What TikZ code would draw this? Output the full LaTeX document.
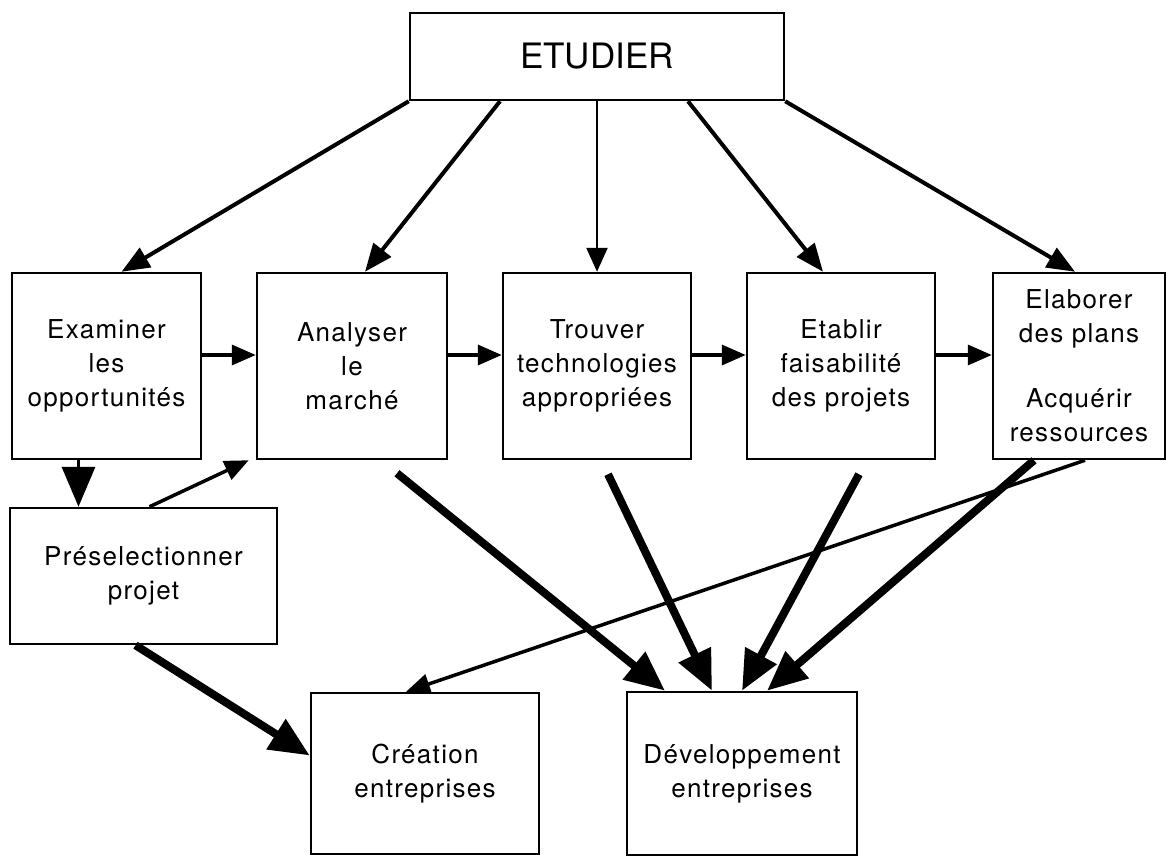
\documentclass[tikz,border=0pt]{standalone}
\usepackage{fontspec}
\setmainfont{TeX Gyre Heros}[LetterSpace=5]
\newfontfamily\headfont{TeX Gyre Heros}
\usetikzlibrary{arrows.meta}

\begin{document}
\begin{tikzpicture}[x=1pt, y=-1pt,
		box/.style={draw, line width=2.5pt, inner sep=0pt, align=center, font=\fontsize{26}{34}\selectfont},
		flow/.style={line width=3.5pt, -{Triangle[length=24pt, width=20pt]}},
		feed/.style={line width=4pt, -{Triangle[length=28pt, width=22pt]}},
		heavy/.style={line width=8pt, -{Triangle[length=40pt, width=34pt]}}]
		\useasboundingbox (0,0) rectangle (1172,856);

		\node[box, minimum width=374pt, minimum height=87pt, font=\headfont\fontsize{35}{40}\selectfont] (etud) at (597,56.5) {ETUDIER};

		\node[box, minimum width=189pt, minimum height=186pt] (exam) at (106.5,366) {Examiner\\les\\opportunités};
		\node[box, minimum width=190pt, minimum height=186pt] (ana) at (352,366) {Analyser\\le\\marché};
		\node[box, minimum width=188pt, minimum height=186pt] (trouv) at (597,366) {Trouver\\technologies\\appropriées};
		\node[box, minimum width=188pt, minimum height=186pt] (etab) at (841,366) {Etablir\\faisabilité\\des projets};
		\node[box, minimum width=172pt, minimum height=186pt] (elab) at (1079,366) {Elaborer\\des plans\\[31pt]Acquérir\\ressources};

		\node[box, minimum width=267pt, minimum height=136pt] (pres) at (143.5,576) {Préselectionner\\projet};
		\node[box, minimum width=228pt, minimum height=161pt] (crea) at (425,773.5) {Création\\entreprises};
		\node[box, minimum width=230pt, minimum height=163pt] (dev) at (742,773.5) {Développement\\entreprises};

		% from ETUDIER
		\draw[feed] (etud.south west) -- ([xshift=15pt]exam.north);
		\draw[feed] ([xshift=-97pt]etud.south) -- ([xshift=13pt]ana.north);
		\draw[line width=2.5pt, -{Triangle[length=24pt, width=21pt]}] (etud.south) -- (trouv.north);
		\draw[feed] ([xshift=91pt]etud.south) -- ([xshift=-18pt]etab.north);
		\draw[feed] (etud.south east) -- ([xshift=-4pt]elab.north);

		\foreach \a/\b in {exam/ana, ana/trouv, trouv/etab, etab/elab}
			\draw[flow] ([yshift=11pt]\a.east) -- ([yshift=11pt]\b.west);

		\draw[line width=3.5pt, -{Triangle[length=40pt, width=33pt]}] ([xshift=-28pt]exam.south) -- ([xshift=-28pt]exam.south |- pres.north);
		\draw[flow] ([xshift=6pt]pres.north) -- ([xshift=-7pt]ana.south west);
		\draw[heavy] ([xshift=-8pt]pres.south) -- ([yshift=18pt]crea.west);

		% towards the bottom boxes
		\draw[heavy] ([xshift=45pt, yshift=-13pt]ana.south) -- ([xshift=-77pt]dev.north);
		\draw[heavy] ([xshift=11pt, yshift=-14pt]trouv.south) -- ([xshift=-30pt]dev.north);
		\draw[heavy] ([xshift=18pt, yshift=-14pt]etab.south) -- (dev.north);
		\draw[heavy] ([xshift=-45pt]elab.south) -- ([xshift=25pt]dev.north);
		\draw[flow] ([xshift=6pt]elab.south) -- ([xshift=-19pt]crea.north);
	\end{tikzpicture}
\end{document}
